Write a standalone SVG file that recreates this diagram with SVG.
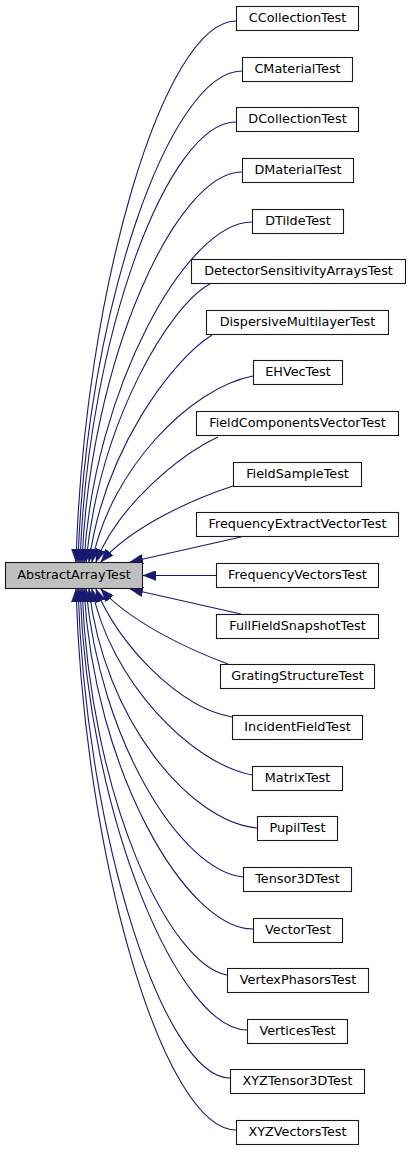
<svg xmlns="http://www.w3.org/2000/svg" width="411" height="1152" viewBox="0 0 411 1152">
<style>
.n rect{fill:#ffffff;stroke:#1a1a1a;stroke-width:1.1}
.p rect{fill:#bfbfbf;stroke:#1a1a1a;stroke-width:1.1}
text{font-family:"DejaVu Sans","Liberation Sans",sans-serif;font-size:12.8px;fill:#000;text-anchor:middle}
.e path{fill:none;stroke:#191970;stroke-width:1.1;marker-end:url(#ah)}
</style>
<defs>
<marker id="ah" viewBox="0 0 13 10" refX="13" refY="5" markerWidth="13" markerHeight="10" markerUnits="userSpaceOnUse" orient="auto">
<path d="M13,5 L0,0 L0,10 Z" fill="#191970" stroke="#191970" stroke-width="0.5"/>
</marker>
</defs>
<rect width="411" height="1152" fill="#ffffff"/>
<g id="edges" class="e">
<path d="M236,21 C164,21 84,290 76,562"/>
<path d="M242,71 C170,71 86,310 78,562"/>
<path d="M236,122 C168,122 88,335 80,562"/>
<path d="M242,172 C176,172 90,360 82,562"/>
<path d="M252,222 C186,222 94,390 84,562"/>
<path d="M210,284 C170,305 100,420 86,562"/>
<path d="M212,335 C172,360 104,450 89,562"/>
<path d="M253,376 C190,388 110,470 92,562"/>
<path d="M218,437 C180,455 118,505 96,562"/>
<path d="M233,486 C190,500 130,528 101,562"/>
<path d="M241,537 L130,562"/>
<path d="M216,575.5 L143,575.5"/>
<path d="M241,614 L130,589"/>
<path d="M228,664 C190,650 130,622 101,589"/>
<path d="M232,717 C180,708 118,645 96,589"/>
<path d="M252,775 C190,763 110,680 92,589"/>
<path d="M257,828 C190,822 104,720 89,589"/>
<path d="M243,877 C180,870 100,740 86,589"/>
<path d="M253,929 C186,929 94,770 84,589"/>
<path d="M227,975 C170,965 90,800 82,589"/>
<path d="M247,1030 C180,1030 88,820 80,589"/>
<path d="M230,1078 C165,1078 86,840 78,589"/>
<path d="M236,1130 C164,1130 84,860 76,589"/>
</g>
<g id="AbstractArrayTest" class="p"><rect x="5.5" y="562.5" width="137" height="26"/><text x="74" y="579">AbstractArrayTest</text></g>
<g id="CCollectionTest" class="n"><rect x="236.5" y="6.5" width="122" height="24"/><text x="297.5" y="22">CCollectionTest</text></g>
<g id="CMaterialTest" class="n"><rect x="242.5" y="57.5" width="110" height="24"/><text x="297.5" y="73">CMaterialTest</text></g>
<g id="DCollectionTest" class="n"><rect x="236.5" y="107.5" width="122" height="24"/><text x="297.5" y="123">DCollectionTest</text></g>
<g id="DMaterialTest" class="n"><rect x="242.5" y="158.5" width="111" height="24"/><text x="298" y="174">DMaterialTest</text></g>
<g id="DTildeTest" class="n"><rect x="252.5" y="209.5" width="91" height="24"/><text x="298" y="225">DTildeTest</text></g>
<g id="DetectorSensitivityArraysTest" class="n"><rect x="191.5" y="259.5" width="214" height="24"/><text x="298.5" y="275">DetectorSensitivityArraysTest</text></g>
<g id="DispersiveMultilayerTest" class="n"><rect x="206.5" y="310.5" width="182" height="24"/><text x="297.5" y="326">DispersiveMultilayerTest</text></g>
<g id="EHVecTest" class="n"><rect x="253.5" y="360.5" width="89" height="24"/><text x="298" y="376">EHVecTest</text></g>
<g id="FieldComponentsVectorTest" class="n"><rect x="196.5" y="411.5" width="202" height="24"/><text x="297.5" y="427">FieldComponentsVectorTest</text></g>
<g id="FieldSampleTest" class="n"><rect x="233.5" y="462.5" width="128" height="24"/><text x="297.5" y="478">FieldSampleTest</text></g>
<g id="FrequencyExtractVectorTest" class="n"><rect x="196.5" y="512.5" width="202" height="24"/><text x="297.5" y="528">FrequencyExtractVectorTest</text></g>
<g id="FrequencyVectorsTest" class="n"><rect x="216.5" y="563.5" width="162" height="24"/><text x="297.5" y="579">FrequencyVectorsTest</text></g>
<g id="FullFieldSnapshotTest" class="n"><rect x="216.5" y="614.5" width="162" height="24"/><text x="297.5" y="630">FullFieldSnapshotTest</text></g>
<g id="GratingStructureTest" class="n"><rect x="220.5" y="664.5" width="154" height="24"/><text x="297.5" y="680">GratingStructureTest</text></g>
<g id="IncidentFieldTest" class="n"><rect x="232.5" y="715.5" width="130" height="24"/><text x="297.5" y="731">IncidentFieldTest</text></g>
<g id="MatrixTest" class="n"><rect x="252.5" y="766.5" width="90" height="24"/><text x="297.5" y="782">MatrixTest</text></g>
<g id="PupilTest" class="n"><rect x="257.5" y="816.5" width="80" height="24"/><text x="297.5" y="832">PupilTest</text></g>
<g id="Tensor3DTest" class="n"><rect x="243.5" y="867.5" width="108" height="24"/><text x="297.5" y="883">Tensor3DTest</text></g>
<g id="VectorTest" class="n"><rect x="253.5" y="918.5" width="89" height="24"/><text x="298" y="934">VectorTest</text></g>
<g id="VertexPhasorsTest" class="n"><rect x="227.5" y="968.5" width="141" height="24"/><text x="298" y="984">VertexPhasorsTest</text></g>
<g id="VerticesTest" class="n"><rect x="247.5" y="1019.5" width="100" height="24"/><text x="297.5" y="1035">VerticesTest</text></g>
<g id="XYZTensor3DTest" class="n"><rect x="230.5" y="1069.5" width="134" height="24"/><text x="297.5" y="1085">XYZTensor3DTest</text></g>
<g id="XYZVectorsTest" class="n"><rect x="236.5" y="1120.5" width="122" height="24"/><text x="297.5" y="1136">XYZVectorsTest</text></g>
</svg>
